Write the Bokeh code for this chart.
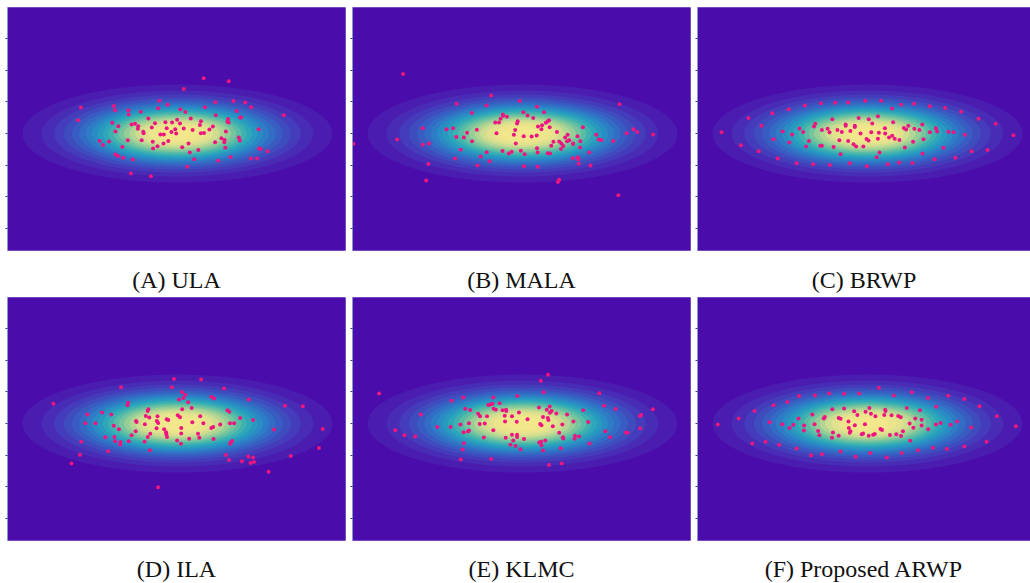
import numpy as np
from bokeh.plotting import figure
from bokeh.layouts import column, row
from bokeh.models import FixedTicker, Range1d, LinearAxis
from bokeh.embed import file_html
from bokeh.resources import INLINE

# ---- target density (anisotropic Gaussian) ----
SIGMA_X = 2.0
SIGMA_Y = 0.632
Y_TICKS = [-3, -2, -1, 0, 1, 2, 3]
LEVELS = [0.00, 0.05, 0.10, 0.15, 0.20, 0.25, 0.30, 0.35, 0.40, 0.45, 0.50,
          0.55, 0.60, 0.65, 0.70, 0.75, 0.80, 0.85, 0.90, 0.95, 1.01]
PALETTE = ["#4a0caa", "#4b1cb0", "#482cb5", "#443cba", "#3f4cbe", "#395cc2",
           "#336cc4", "#2e7cc5", "#2a8cc4", "#289ac0", "#2ea7ba", "#3fb2b0",
           "#58bca6", "#76c59e", "#96ce98", "#b4d694", "#cfdd90", "#e2e28e",
           "#ede58c", "#f2e78b"]
POINT_COLOR = "#ee1580"

captions = ["(A) ULA", "(B) MALA", "(C) BRWP", "(D) ILA", "(E) KLMC", "(F) Proposed ARWP"]

# ---- particles per method ----
ula_x = [0.83,1.62,0.20,-0.57,-0.31,1.20,1.77,2.14,-3.05,-2.01,
         -1.97,-1.55,-1.54,-1.16,-0.61,0.09,0.25,0.87,1.87,2.33,
         -3.14,-2.06,-1.45,-1.34,-1.24,-1.25,-1.87,-1.96,-0.92,-0.71,
         -0.81,-1.08,-1.07,-0.38,-0.17,-0.01,0.08,0.42,0.74,0.71,
         1.21,1.60,1.58,1.62,1.98,2.01,3.36,-0.34,-0.07,0.20,
         0.48,-0.19,-0.04,-0.54,-0.43,0.74,0.84,1.01,1.12,1.53,
         2.57,-2.46,-2.35,-2.16,-1.57,-1.13,-0.78,-0.63,-0.77,-0.44,
         -0.29,0.15,0.35,1.19,1.39,1.49,1.48,1.51,1.94,1.97,
         -1.74,-1.96,-1.88,-1.72,-1.41,0.39,0.66,0.53,1.29,1.68,
         2.32,2.51,2.58,2.63,2.85,0.31,-1.47,-0.84]
ula_y = [1.75,1.65,1.41,1.04,0.91,0.99,1.03,0.98,0.82,0.87,
         0.74,0.74,0.60,0.69,0.80,0.77,0.68,0.83,0.71,0.83,
         0.42,0.34,0.29,0.31,0.23,0.15,0.23,0.07,0.48,0.33,
         0.19,0.06,0.01,0.36,0.35,0.44,0.32,0.48,0.39,0.27,
         0.58,0.46,0.37,0.35,0.51,0.51,0.58,0.17,0.14,0.16,
         0.11,0.05,0.00,-0.03,-0.03,0.01,0.02,0.13,0.22,0.07,
         0.14,-0.23,-0.36,-0.25,-0.21,-0.21,-0.26,-0.40,-0.47,-0.31,
         -0.23,-0.43,-0.31,-0.27,-0.15,-0.20,-0.27,-0.45,-0.12,-0.22,
         -0.42,-0.66,-0.71,-0.76,-0.82,-0.60,-0.52,-0.81,-0.86,-0.74,
         -0.79,-0.79,-0.47,-0.49,-0.56,-1.05,-1.26,-1.35]

mala_x = [-3.77,-0.99,-0.09,-2.08,-1.13,0.46,3.07,-1.60,0.03,0.68,
          0.16,-0.62,-0.61,-0.49,-0.69,0.34,-0.86,-0.74,-0.15,-0.17,
          0.84,0.80,0.74,0.62,0.49,0.60,0.86,1.91,-3.15,-2.40,
          -2.19,-1.44,-1.75,-0.23,-0.82,-0.27,0.04,0.29,0.45,1.09,
          1.43,1.35,1.74,2.33,3.51,3.29,3.63,4.13,-3.96,-2.09,
          -1.85,-1.59,-0.21,-3.15,-2.95,0.98,1.16,1.23,1.48,1.41,
          1.60,1.83,2.41,2.49,2.87,0.91,1.29,1.22,1.60,1.82,
          -1.95,-1.13,-0.63,-0.43,-0.34,-0.05,0.07,0.46,0.48,0.80,
          0.87,2.11,1.59,1.75,1.77,1.78,-2.13,-1.32,-1.04,-2.97,
          -1.42,0.05,0.48,2.15,-3.04,1.12,1.16,3.03,-5.34]
mala_y = [1.88,1.20,1.03,0.94,0.89,0.85,0.93,0.65,0.67,0.67,
          0.57,0.60,0.56,0.53,0.47,0.49,0.35,0.35,0.39,0.32,
          0.42,0.39,0.34,0.26,0.22,0.14,0.20,0.20,0.17,0.14,
          0.17,0.12,0.03,0.11,0.01,-0.04,-0.08,-0.09,-0.06,0.05,
          -0.04,-0.12,-0.08,-0.04,0.14,0.01,0.05,-0.03,-0.19,-0.11,
          -0.12,-0.24,-0.31,-0.35,-0.31,-0.26,-0.25,-0.31,-0.21,-0.24,
          -0.31,-0.24,-0.19,-0.21,-0.23,-0.38,-0.39,-0.49,-0.33,-0.44,
          -0.51,-0.59,-0.55,-0.63,-0.57,-0.54,-0.65,-0.46,-0.60,-0.62,
          -0.63,-0.60,-0.78,-0.75,-0.81,-0.95,-0.79,-0.72,-0.87,-0.96,
          -1.01,-1.03,-1.05,-1.01,-1.48,-1.53,-1.46,-1.95,-0.32]

brwp_x = [-4.61,-4.00,-3.76,-3.44,-3.35,-3.01,-2.97,-2.84,-2.68,-2.49,
          -2.47,-2.38,-2.24,-2.15,-2.03,-1.98,-1.94,-1.85,-1.72,-1.69,
          -1.65,-1.49,-1.44,-1.47,-1.44,-1.26,-1.20,-1.19,-1.11,-1.07,
          -1.02,-0.95,-0.89,-0.85,-0.81,-0.69,-0.69,-0.61,-0.61,-0.56,
          -0.54,-0.44,-0.40,-0.40,-0.36,-0.28,-0.22,-0.13,-0.07,-0.02,
          -0.03,0.03,0.04,0.12,0.15,0.29,0.33,0.33,0.36,0.38,
          0.43,0.55,0.56,0.64,0.68,0.78,0.78,0.81,0.86,1.00,
          1.01,1.06,1.15,1.18,1.22,1.29,1.42,1.44,1.47,1.48,
          1.64,1.73,1.74,1.77,1.97,1.97,2.12,2.16,2.20,2.40,
          2.45,2.56,2.72,2.78,2.96,3.08,3.29,3.51,3.79,4.05,4.61]
brwp_y = [0.04,-0.37,0.49,-0.56,0.25,0.64,-0.18,-0.79,0.07,0.77,
          -0.28,-0.03,-0.94,0.16,0.05,0.89,-0.41,-0.23,-0.97,0.22,
          0.31,-0.38,-0.38,0.96,0.11,0.15,0.04,-0.99,0.45,-0.42,
          0.97,0.11,-0.21,-0.65,0.05,0.29,0.25,0.98,-0.23,-0.94,
          0.08,-0.34,0.21,0.25,-0.41,0.49,0.00,-0.41,1.04,-1.03,
          -0.17,-0.22,0.45,0.04,0.32,-0.75,0.55,-0.16,0.03,-0.60,
          1.04,0.17,0.00,-0.97,-0.12,0.79,-0.07,0.36,-0.16,-0.91,
          -0.20,0.91,0.18,-0.44,0.13,0.25,-0.93,-0.26,0.94,0.15,
          0.11,0.29,-0.63,-0.18,0.04,0.86,-0.81,0.17,0.07,-0.45,
          0.81,0.06,0.04,-0.76,0.69,-0.04,-0.56,0.47,-0.52,0.31,-0.05]

ila_x = [-0.11,0.75,-0.18,-1.78,1.47,0.14,0.25,0.19,0.05,1.07,
         1.16,2.25,-1.56,-1.58,0.34,-3.92,3.40,3.96,0.15,0.45,
         -0.92,-0.94,1.58,1.64,-2.85,-2.38,-2.09,-1.00,-0.89,-0.63,
         0.01,0.08,0.72,1.98,2.39,-1.31,-1.29,-0.65,-0.61,-0.34,
         -0.29,0.47,0.82,-2.91,-2.59,-1.03,1.35,1.66,1.79,-2.01,
         -1.85,-0.66,-0.42,0.12,1.07,1.13,3.05,4.59,-1.32,-1.45,
         -0.86,-0.36,-0.35,-0.33,0.12,0.65,-2.28,-1.99,-1.97,-1.80,
         -1.81,-1.54,-1.04,-0.94,-0.01,0.37,0.69,1.14,0.11,1.73,
         1.68,1.67,-3.04,-2.19,-0.87,-3.08,-3.35,1.53,1.63,2.04,
         2.24,2.31,2.39,2.42,3.58,4.47,2.88,-0.61]
ila_y = [1.41,1.39,1.15,1.15,1.11,1.00,0.91,0.81,0.76,0.85,
         0.79,0.76,0.66,0.58,0.67,0.63,0.56,0.55,0.45,0.49,
         0.45,0.40,0.42,0.37,0.29,0.35,0.29,0.24,0.19,0.23,
         0.26,0.20,0.23,0.18,0.11,0.08,0.05,0.08,0.02,0.14,
         0.11,0.04,0.01,0.01,0.01,-0.02,-0.03,0.01,0.01,-0.07,
         -0.18,-0.15,-0.18,-0.14,-0.14,-0.11,-0.19,-0.17,-0.24,-0.37,
         -0.32,-0.27,-0.34,-0.42,-0.31,-0.32,-0.43,-0.42,-0.56,-0.58,
         -0.66,-0.56,-0.57,-0.42,-0.53,-0.48,-0.45,-0.49,-0.64,-0.55,
         -0.60,-0.64,-0.57,-0.87,-0.84,-0.98,-1.26,-0.99,-1.15,-1.19,
         -1.04,-1.24,-1.07,-1.21,-1.02,-0.77,-1.52,-2.01]

klmc_x = [0.81,0.58,0.67,-4.53,2.43,-0.16,-1.87,-0.92,-2.24,-0.72,
          -1.08,-1.02,-0.95,2.58,0.86,0.52,-1.81,-1.65,-0.91,-0.84,
          -0.63,-0.52,-0.51,0.77,0.92,0.87,1.92,2.94,4.12,-0.11,
          1.07,1.41,-3.21,-1.40,-1.34,-1.12,-0.56,-0.33,0.65,0.80,
          0.82,3.75,3.71,0.16,-0.55,-0.18,1.61,2.08,-2.69,-2.27,
          -1.96,-1.69,-1.35,-1.19,0.56,0.60,0.96,1.26,3.72,-4.02,
          -3.73,-3.39,-1.86,-1.72,-1.69,-0.92,1.16,1.28,1.29,1.66,
          1.65,1.79,2.62,2.77,3.27,3.32,
          -1.22,-0.53,-0.33,-0.17,-0.17,-0.29,0.05,0.53,0.59,0.72,
          -1.85,-0.38,-0.22,0.60,-0.06,0.65,1.21,2.12,-1.89,-1.95,
          -0.99,0.84,1.24]
klmc_y = [1.54,1.35,0.99,0.95,0.96,0.87,0.82,0.82,0.72,0.64,
          0.59,0.60,0.63,0.56,0.54,0.51,0.47,0.43,0.47,0.44,
          0.42,0.44,0.40,0.44,0.40,0.34,0.42,0.46,0.45,0.35,
          0.32,0.29,0.29,0.31,0.23,0.23,0.25,0.23,0.21,0.18,
          0.11,0.27,0.24,0.14,0.07,0.06,0.07,0.05,-0.11,-0.11,
          -0.03,0.01,-0.01,0.00,-0.01,-0.05,-0.08,-0.03,-0.15,-0.21,
          -0.37,-0.41,-0.27,-0.25,-0.22,-0.21,-0.29,-0.43,-0.47,-0.38,
          -0.48,-0.41,-0.24,-0.43,-0.28,-0.29,
          -0.44,-0.45,-0.35,-0.35,-0.42,-0.53,-0.49,-0.60,-0.57,-0.53,
          -0.62,-0.67,-0.71,-0.68,-0.81,-0.85,-0.78,-0.63,-0.82,-1.13,
          -1.12,-1.31,-1.26]

arwp_x = [0.36,1.40,-2.16,-1.66,-1.21,-0.74,-0.26,0.83,1.91,2.55,
          3.06,-2.53,-2.97,-3.57,3.54,-0.74,-1.11,0.06,-0.42,-0.06,
          0.56,0.57,1.24,1.66,2.17,-1.74,-1.35,-1.38,-2.18,-0.91,
          -0.85,-0.32,0.11,0.25,0.53,0.76,0.97,1.05,1.51,1.71,
          -4.07,4.09,-4.73,-3.09,-2.69,-2.46,-2.34,-2.00,-2.01,-1.67,
          -1.56,-1.52,-1.09,-1.12,-0.91,-0.60,-0.59,-0.40,-0.54,-0.56,
          -0.08,-0.18,-0.14,0.04,0.18,0.23,0.41,0.46,0.71,0.91,
          1.06,1.12,1.33,1.45,1.71,1.92,2.16,2.31,2.63,2.83,
          3.28,4.69,-3.64,-3.22,-2.79,1.35,-2.24,-1.78,-1.44,-0.85,
          -0.38,0.09,0.61,1.08,1.60,2.07,2.51,3.06,3.76]
arwp_y = [1.13,0.99,0.87,0.89,0.95,0.94,0.95,0.89,0.81,0.88,
          0.78,0.68,0.58,0.40,0.55,0.48,0.45,0.49,0.39,0.37,
          0.44,0.40,0.49,0.42,0.53,0.29,0.21,0.16,0.16,0.18,
          0.15,0.27,0.31,0.23,0.27,0.26,0.24,0.20,0.16,0.12,
          0.16,0.23,-0.03,0.04,-0.02,-0.14,-0.04,-0.06,-0.22,-0.02,
          -0.23,-0.37,-0.28,-0.45,-0.38,0.07,-0.14,-0.05,-0.24,-0.29,
          -0.02,-0.34,-0.31,-0.38,-0.35,-0.33,-0.17,-0.20,-0.36,-0.34,
          -0.39,-0.24,0.00,-0.13,-0.06,-0.18,-0.03,0.02,-0.04,0.07,
          -0.12,-0.08,-0.63,-0.57,-0.67,-0.54,-0.79,-1.00,-0.97,-0.88,
          -1.05,-0.93,-1.07,-0.93,-0.84,-0.76,-0.80,-0.72,-0.57]

samples = [(ula_x, ula_y), (mala_x, mala_y), (brwp_x, brwp_y),
           (ila_x, ila_y), (klmc_x, klmc_y), (arwp_x, arwp_y)]

# density grid for the filled contours
gx = np.linspace(-5.6, 5.6, 401)
gy = np.linspace(-4.2, 4.2, 301)
GX, GY = np.meshgrid(gx, gy)
GZ = np.exp(-0.5 * ((GX / SIGMA_X) ** 2 + (GY / SIGMA_Y) ** 2))

X_START = -5.37
Y_RANGE = (-3.69, 3.98)
FRAME_H = 243
# per column: (frame width, x end, left border, right border)
COLS = [(338, 5.31, 7, 3), (338, 5.31, 4, 3), (333, 5.15, 4, 0)]
# per row: (top border, bottom border, caption standoff)
ROWS = [(7, 47, 16), (0, 43, 15)]


def make_panel(i):
    fw, xend, lb, rb = COLS[i % 3]
    top, bottom, standoff = ROWS[i // 3]
    xs, ys = samples[i]
    p = figure(frame_width=fw, frame_height=FRAME_H,
               x_range=Range1d(X_START, xend), y_range=Range1d(*Y_RANGE),
               output_backend="svg", toolbar_location=None,
               min_border_left=lb, min_border_right=rb,
               min_border_top=top, min_border_bottom=bottom,
               title=None,
               x_axis_location=None, y_axis_location="left",
               background_fill_color=PALETTE[0], border_fill_color="white",
               outline_line_color=None)
    p.grid.visible = False
    # nested filled regions (density >= level), stacked from the outside in
    for k in range(len(PALETTE)):
        p.contour(x=gx, y=gy, z=GZ, levels=[LEVELS[k], LEVELS[-1]],
                  fill_color=PALETTE[k], line_color=None)
    p.scatter(xs, ys, size=4, fill_color=POINT_COLOR, line_color=None)
    ax = p.yaxis[0]
    ax.ticker = FixedTicker(ticks=Y_TICKS)
    ax.major_label_overrides = {t: "" for t in Y_TICKS}
    ax.major_label_standoff = 0
    ax.major_tick_in = 0
    ax.major_tick_out = 2
    ax.major_tick_line_color = "#2b3a8f"
    ax.minor_tick_line_color = None
    ax.axis_line_color = "#8a96d0"
    ax.axis_label = None
    # tick-less bottom axis whose label is the panel caption
    cap = LinearAxis(ticker=FixedTicker(ticks=[]), major_tick_out=0,
                     major_tick_in=0, axis_line_color=None,
                     major_tick_line_color=None, minor_tick_line_color=None,
                     major_label_standoff=0,
                     axis_label=captions[i], axis_label_standoff=standoff,
                     axis_label_text_font="Liberation Serif",
                     axis_label_text_font_style="normal",
                     axis_label_text_font_size="24px",
                     axis_label_text_color="#111111")
    p.add_layout(cap, "below")
    return p


panels = [make_panel(i) for i in range(6)]
layout = column(row(*panels[:3]), row(*panels[3:]))

open("out.html", "w").write(file_html(layout, INLINE))
